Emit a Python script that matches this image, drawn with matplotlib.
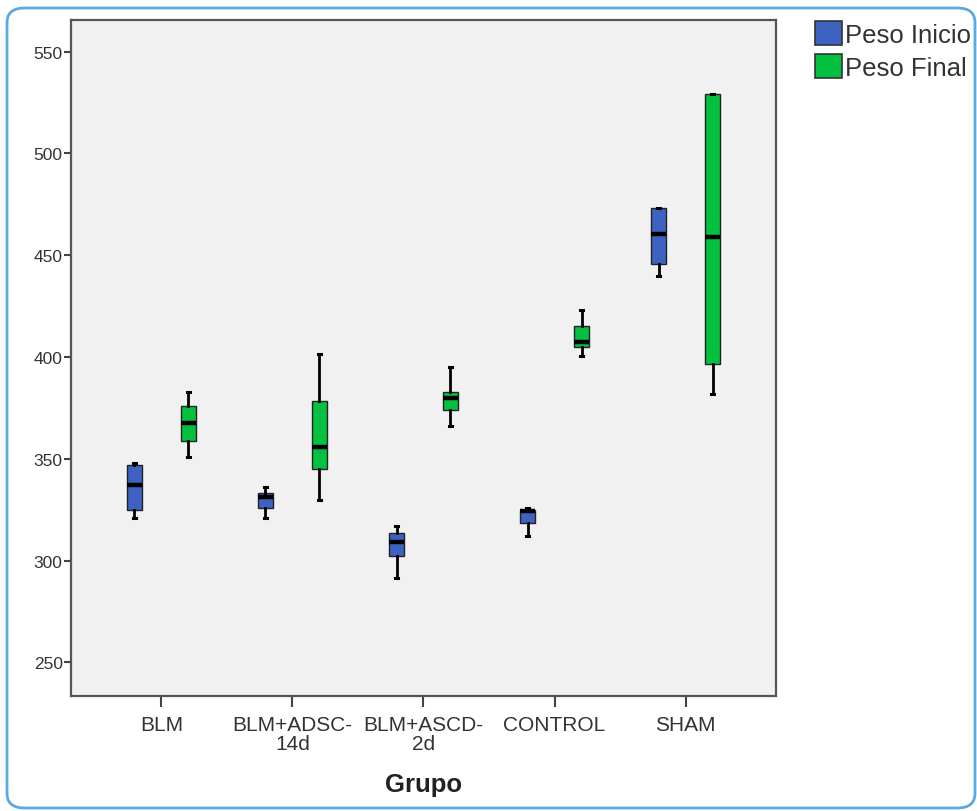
import numpy as np
import matplotlib
matplotlib.use('Agg')
from matplotlib import pyplot as plt
from matplotlib.patches import FancyBboxPatch, Patch

plt.rcParams['font.family'] = ['Liberation Sans', 'DejaVu Sans']

grupos = ['BLM', 'BLM+ADSC-\n14d', 'BLM+ASCD-\n2d', 'CONTROL', 'SHAM']

# five-number summaries per group: whisker low, Q1, median, Q3, whisker high
inicio_lo = [321.0, 321.0, 291.5, 312.0, 440.0]
inicio_q1 = [325.0, 326.0, 302.5, 318.5, 445.5]
inicio_med = [337.0, 331.0, 309.0, 324.5, 460.5]
inicio_q3 = [347.0, 333.0, 313.5, 325.0, 473.0]
inicio_hi = [348.0, 336.0, 317.0, 326.0, 473.0]

final_lo = [351.0, 330.0, 366.0, 400.5, 382.0]
final_q1 = [358.5, 345.0, 374.0, 405.0, 396.5]
final_med = [367.5, 356.0, 380.0, 407.5, 459.0]
final_q3 = [376.0, 378.5, 383.0, 415.0, 529.0]
final_hi = [383.0, 401.5, 395.0, 423.0, 529.0]

c_inicio = '#3d62c2'
c_final = '#04c040'


def stats(lo, q1, med, q3, hi):
    return [dict(whislo=a, q1=b, med=c, q3=d, whishi=e, fliers=[])
            for a, b, c, d, e in zip(lo, q1, med, q3, hi)]


fig = plt.figure(figsize=(9.77, 8.12), dpi=100)
ax = fig.add_axes([71 / 977, 1 - 697 / 812, 705 / 977, (697 - 21) / 812])
ax.set_facecolor('#f1f1f1')

x = np.arange(len(grupos))
off = 0.206
w = 0.114

for st, pos, col in [(stats(inicio_lo, inicio_q1, inicio_med, inicio_q3, inicio_hi), x - off, c_inicio),
                     (stats(final_lo, final_q1, final_med, final_q3, final_hi), x + off, c_final)]:
    ax.bxp(st, positions=pos, widths=w, patch_artist=True, showfliers=False,
           capwidths=0.022,
           boxprops=dict(facecolor=col, edgecolor='#222222', linewidth=1.0),
           medianprops=dict(color='black', linewidth=3.2, solid_capstyle='butt'),
           whiskerprops=dict(color='black', linewidth=2.0),
           capprops=dict(color='black', linewidth=2.2))

ax.set_xlim(-0.69, 4.69)
ax.set_ylim(233.5, 565.5)
ax.set_yticks([250, 300, 350, 400, 450, 500, 550])
ax.set_xticks(x)
ax.set_xticklabels(grupos, fontsize=15, color='#333333', linespacing=0.95)
ax.tick_params(axis='y', labelsize=12.5, labelcolor='#333333', length=5,
               width=1.5, color='#444444', pad=1)
ax.tick_params(axis='x', length=8, width=1.5, color='#444444', pad=6)
for s in ax.spines.values():
    s.set_color('#555555')
    s.set_linewidth(1.6)

ax.set_xlabel('Grupo', fontsize=18.5, fontweight='bold', color='#222222', labelpad=14)

handles = [Patch(facecolor=c_inicio, edgecolor='#333333', linewidth=1.2, label='Peso Inicio'),
           Patch(facecolor=c_final, edgecolor='#333333', linewidth=1.2, label='Peso Final')]
fig.legend(handles=handles, loc='upper left', bbox_to_anchor=(815 / 977, 1 - 22 / 812),
           frameon=False, fontsize=18.5, handlelength=1.05, handleheight=1.05,
           handletextpad=0.12, labelspacing=0.28, borderpad=0, borderaxespad=0,
           labelcolor='#333333')

# rounded outer frame
frame = FancyBboxPatch((7 / 977, 1 - 809 / 812), 968 / 977, 800 / 812,
                       boxstyle='round,pad=0,rounding_size=0.018',
                       transform=fig.transFigure, facecolor='none',
                       edgecolor='#5aaae6', linewidth=2.0, zorder=-1)
fig.patches.append(frame)

fig.savefig('out.png', dpi=100)
